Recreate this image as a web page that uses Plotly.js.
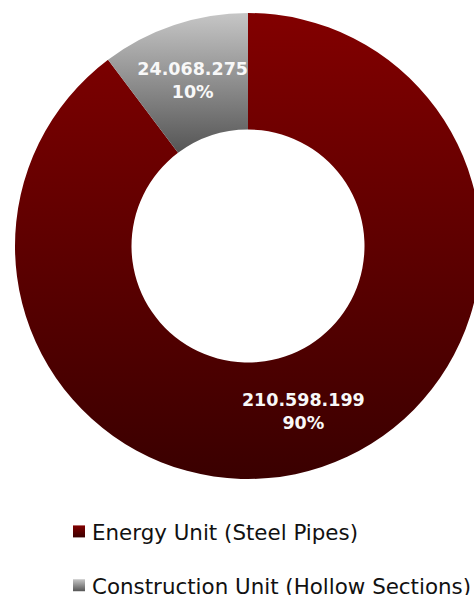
<!DOCTYPE html>
<html>
<head>
<meta charset="utf-8">
<script src="https://cdn.plot.ly/plotly-3.0.1.min.js"></script>
<style>
  html, body { margin: 0; padding: 0; overflow: hidden; background: #fff; }
  #chart { width: 496px; height: 595px; }
</style>
</head>
<body>
<div id="chart"></div>
<script>
// Data
var categories = ["Energy Unit (Steel Pipes)", "Construction Unit (Hollow Sections)"];
var values = [210598199, 24068275];

// Gradient stops (top, bottom) per slice
var gradients = [
  ["#820000", "#3a0000"],
  ["#c6c6c6", "#555555"]
];

var W = 496, H = 595;
var HOLE = 0.5;

var data = [{
  type: "pie",
  labels: categories,
  values: values,
  hole: HOLE,
  sort: false,
  direction: "clockwise",
  rotation: 0,
  textposition: "inside",
  insidetextorientation: "horizontal",
  texttemplate: "%{value:,}<br>%{percent:.0%}",
  textfont: { family: "DejaVu Sans", size: 17.5, color: "#f8f8f8", weight: "bold" },
  marker: { colors: ["#800000", "#a0a0a0"], line: { width: 0 } },
  domain: { x: [0, 1], y: [1 - 479 / H, 1 - 13 / H] },
  hoverinfo: "label+value+percent"
}];

var layout = {
  width: W,
  height: H,
  margin: { l: 0, r: 0, t: 0, b: 0, autoexpand: false },
  separators: ",.",
  paper_bgcolor: "#ffffff",
  showlegend: true,
  legend: {
    x: 52 / W,
    xanchor: "left",
    y: 1 - 511 / H,
    yanchor: "top",
    orientation: "v",
    bgcolor: "rgba(0,0,0,0)",
    font: { family: "DejaVu Sans", size: 21.4, color: "#111111" }
  }
};

var gd = document.getElementById("chart");
Plotly.newPlot(gd, data, layout, { displayModeBar: false, staticPlot: true }).then(function () {
  var svgNS = "http://www.w3.org/2000/svg";
  var svg = gd.querySelector("svg.main-svg");
  var defs = svg.querySelector("defs");
  gradients.forEach(function (g, i) {
    var lg = document.createElementNS(svgNS, "linearGradient");
    lg.setAttribute("id", "sliceGrad" + i);
    lg.setAttribute("x1", "0"); lg.setAttribute("y1", "0");
    lg.setAttribute("x2", "0"); lg.setAttribute("y2", "1");
    [[0, g[0]], [1, g[1]]].forEach(function (s) {
      var st = document.createElementNS(svgNS, "stop");
      st.setAttribute("offset", s[0]);
      st.setAttribute("stop-color", s[1]);
      lg.appendChild(st);
    });
    defs.appendChild(lg);
  });

  // pie geometry from the library
  var cd0 = gd.calcdata[0][0];
  var cx = cd0.cx, cy = cd0.cy, r = cd0.r;
  var rMid = r * (1 + HOLE) / 2;
  var total = values.reduce(function (a, b) { return a + b; }, 0);
  var cum = 0;

  gd.querySelectorAll("g.slice").forEach(function (s, i) {
    var p = s.querySelector("path.surface");
    if (p) p.style.fill = "url(#sliceGrad" + i + ")";
    var mid = (cum + values[i] / 2) / total * 2 * Math.PI;
    cum += values[i];
    var t = s.querySelector("text.slicetext");
    if (t) {
      t.removeAttribute("transform");
      var bb = t.getBBox();
      var tx = cx + rMid * Math.sin(mid);
      var ty = cy - rMid * Math.cos(mid);
      t.setAttribute("transform", "translate(" + (tx - (bb.x + bb.width / 2)) + "," + (ty - (bb.y + bb.height / 2)) + ")");
    }
  });

  gd.querySelectorAll(".legend .traces").forEach(function (t, i) {
    var p = t.querySelector("path.legendpie");
    if (p) p.style.fill = "url(#sliceGrad" + i + ")";
    var pts = t.querySelector(".legendpoints");
    if (pts) pts.setAttribute("transform", "translate(7,0)");
    var tr = t.getAttribute("transform") || "";
    var m = /translate\(([-\d.]+)[ ,]+([-\d.]+)\)/.exec(tr);
    if (m) {
      var x = parseFloat(m[1]), y = parseFloat(m[2]) + i * 23;
      t.setAttribute("transform", "translate(" + x + "," + y + ")");
    }
  });
  gd.querySelectorAll(".legend .scrollbox, .legend").forEach(function (el) {
    el.removeAttribute("clip-path");
  });
});
</script>
</body>
</html>
